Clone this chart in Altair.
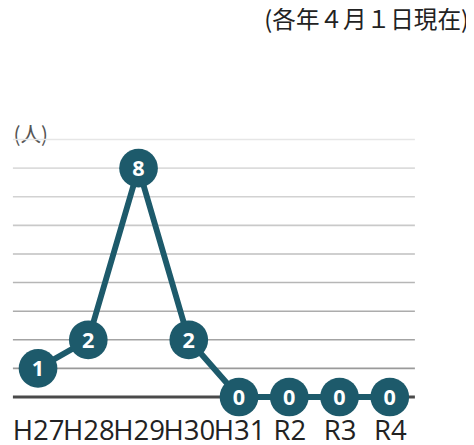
import altair as alt
import pandas as pd

years = ["H27", "H28", "H29", "H30", "H31", "R2", "R3", "R4"]
counts = [1, 2, 8, 2, 0, 0, 0, 0]
grid_values = [1, 2, 3, 4, 5, 6, 7, 8, 9]
baseline_value = [0]
title_text = "(各年４月１日現在)"
unit_text = "(人)"

TEAL = "#1d5a6b"
FONT = "Open Sans"
CJK = "Noto Sans CJK JP"

df = pd.DataFrame({"year": years, "count": counts})
grid_df = pd.DataFrame({"v": grid_values})
base_df = pd.DataFrame({"v": baseline_value})

yscale = alt.Scale(domain=[0, 9], nice=False, zero=True)
yaxis = alt.Axis(
    title=unit_text, labels=False, ticks=False, domain=False, grid=False,
    titleAngle=0, titleX=0, titleY=2, titleAlign="left",
    titleBaseline="alphabetic", titleFont=CJK, titleFontSize=21,
    titleFontWeight="normal", titleColor="#555",
)
xenc = alt.X(
    "year:N",
    sort=years,
    scale=alt.Scale(type="point", padding=0.5),
    axis=alt.Axis(
        title=None, ticks=False, domain=False, labelAngle=0,
        labelFontSize=28, labelFont=FONT, labelColor="#222",
        labelBaseline="alphabetic", labelPadding=43, labelFlush=False,
        labelOverlap=False,
    ),
)

grid = alt.Chart(grid_df).mark_rule(strokeWidth=1.6).encode(
    y=alt.Y("v:Q", scale=yscale, axis=yaxis, title=unit_text),
    color=alt.Color("v:Q", scale=alt.Scale(domain=[1, 9], range=["#9a9a9a", "#e6e6e6"]), legend=None),
)

base = alt.Chart(base_df).mark_rule(strokeWidth=3, color="#4a4a4a").encode(
    y=alt.Y("v:Q", scale=yscale, axis=yaxis, title=unit_text),
)

yenc = alt.Y("count:Q", scale=yscale, axis=yaxis, title=unit_text)

line = alt.Chart(df).mark_line(strokeWidth=6, color=TEAL).encode(x=xenc, y=yenc)
dots = alt.Chart(df).mark_circle(size=1550, color=TEAL, opacity=1).encode(x=xenc, y=yenc)
labels = alt.Chart(df).mark_text(
    color="white", fontSize=22, fontWeight="bold", font=FONT, baseline="middle", dy=1
).encode(x=xenc, y=yenc, text="count:Q")

chart = alt.layer(grid, base, line, dots, labels).properties(
    width=409,
    height=262,
    autosize=alt.AutoSizeParams(type="none"),
    padding={"left": 5, "top": 130, "right": 52, "bottom": 45},
    title=alt.TitleParams(
        text=title_text, anchor="end", fontSize=24, font=CJK,
        fontWeight="normal", color="#222", dx=55, frame="group",
        baseline="alphabetic", offset=0, dy=-74,
    ),
).configure_view(stroke=None)

chart.save("out.html", embed_options={"renderer": "svg", "actions": False})
